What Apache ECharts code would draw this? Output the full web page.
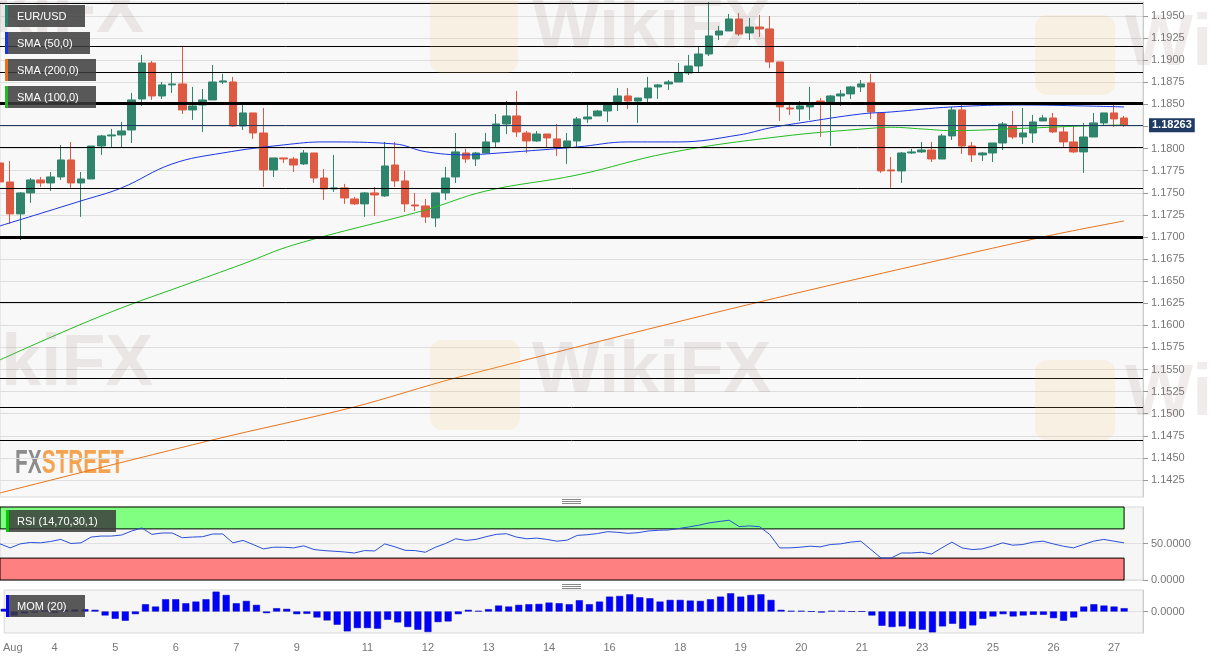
<!DOCTYPE html>
<html>
<head>
<meta charset="utf-8">
<script src="https://cdn.jsdelivr.net/npm/echarts@6/dist/echarts.min.js"></script>
<style>html,body{margin:0;padding:0;background:#fff}#c{width:1214px;height:660px}</style>
</head>
<body>
<div id="c"></div>
<script>
// ---- DATA ----
// 4h candles: [open, close, low, high], index 0..111
const ohlc = [
[1.17837,1.17622,1.17588,1.17871],[1.17622,1.17261,1.17147,1.17860],[1.17261,1.17498,1.16966,1.17509],[1.17498,1.17645,1.17385,1.17667],
[1.17645,1.17611,1.17566,1.17679],[1.17611,1.17679,1.17520,1.17735],[1.17679,1.17871,1.17645,1.18041],[1.17871,1.17611,1.17555,1.18075],
[1.17611,1.17656,1.17227,1.17735],[1.17656,1.18029,1.17656,1.18029],[1.18029,1.18143,1.17928,1.18154],[1.18143,1.18154,1.18018,1.18222],
[1.18154,1.18199,1.18007,1.18301],[1.18210,1.18550,1.18063,1.18629],[1.18561,1.18968,1.18482,1.19059],[1.18968,1.18595,1.18550,1.18991],
[1.18595,1.18720,1.18561,1.18753],[1.18720,1.18731,1.18629,1.18866],[1.18731,1.18437,1.18391,1.19161],[1.18437,1.18482,1.18324,1.18697],
[1.18493,1.18550,1.18188,1.18674],[1.18550,1.18753,1.18550,1.18946],[1.18753,1.18765,1.18731,1.18844],[1.18753,1.18256,1.18244,1.18810],
[1.18256,1.18403,1.18210,1.18493],[1.18403,1.18176,1.18109,1.18403],[1.18176,1.17758,1.17566,1.18459],[1.17758,1.17894,1.17679,1.17894],
[1.17894,1.17882,1.17837,1.17894],[1.17882,1.17814,1.17735,1.17905],[1.17826,1.17950,1.17814,1.17984],[1.17950,1.17667,1.17611,1.17950],
[1.17667,1.17543,1.17419,1.17769],[1.17543,1.17555,1.17509,1.17928],[1.17555,1.17441,1.17374,1.17600],[1.17430,1.17374,1.17362,1.17453],
[1.17374,1.17498,1.17227,1.17509],[1.17498,1.17475,1.17238,1.17566],[1.17464,1.17803,1.17453,1.18075],[1.17814,1.17634,1.17566,1.18075],
[1.17634,1.17374,1.17283,1.17747],[1.17362,1.17351,1.17294,1.17498],[1.17351,1.17227,1.17158,1.17430],[1.17215,1.17498,1.17113,1.17498],
[1.17498,1.17667,1.17419,1.17792],[1.17679,1.17962,1.17611,1.18176],[1.17950,1.17882,1.17837,1.17996],[1.17882,1.17950,1.17803,1.17962],
[1.17950,1.18075,1.17950,1.18176],[1.18075,1.18278,1.18018,1.18391],[1.18278,1.18369,1.18165,1.18538],[1.18369,1.18188,1.18131,1.18652],
[1.18176,1.18086,1.17950,1.18199],[1.18086,1.18165,1.18075,1.18199],[1.18165,1.18120,1.18018,1.18165],[1.18109,1.18018,1.17916,1.18278],
[1.18018,1.18086,1.17826,1.18176],[1.18086,1.18335,1.18018,1.18357],[1.18335,1.18357,1.18290,1.18493],[1.18369,1.18425,1.18369,1.18437],
[1.18425,1.18493,1.18301,1.18527],[1.18527,1.18595,1.18425,1.18685],[1.18595,1.18538,1.18448,1.18685],[1.18538,1.18572,1.18290,1.18572],
[1.18572,1.18685,1.18493,1.18810],[1.18697,1.18720,1.18561,1.18731],[1.18731,1.18753,1.18663,1.18776],[1.18753,1.18855,1.18753,1.18968],
[1.18855,1.18934,1.18832,1.19059],[1.18934,1.19070,1.18866,1.19149],[1.19070,1.19274,1.19047,1.19658],[1.19285,1.19330,1.19228,1.19387],
[1.19330,1.19466,1.19330,1.19523],[1.19466,1.19296,1.19274,1.19534],[1.19308,1.19375,1.19228,1.19477],[1.19375,1.19353,1.19262,1.19511],
[1.19353,1.18980,1.18912,1.19500],[1.18980,1.18471,1.18312,1.18980],[1.18459,1.18448,1.18380,1.18527],[1.18448,1.18482,1.18312,1.18538],
[1.18471,1.18493,1.18324,1.18697],[1.18538,1.18527,1.18131,1.18572],[1.18527,1.18595,1.18029,1.18606],[1.18595,1.18618,1.18482,1.18663],
[1.18618,1.18697,1.18561,1.18708],[1.18697,1.18731,1.18640,1.18776],[1.18742,1.18414,1.18335,1.18844],[1.18403,1.17747,1.17724,1.18403],
[1.17758,1.17747,1.17555,1.17905],[1.17747,1.17950,1.17611,1.17962],[1.17950,1.17962,1.17939,1.17996],[1.17962,1.17984,1.17950,1.18075],
[1.17984,1.17882,1.17848,1.18075],[1.17882,1.18143,1.17882,1.18165],[1.18143,1.18437,1.18097,1.18471],[1.18437,1.18029,1.17939,1.18493],
[1.18029,1.17928,1.17848,1.18075],[1.17928,1.17950,1.17860,1.17962],[1.17950,1.18063,1.17848,1.18063],[1.18063,1.18278,1.17984,1.18301],
[1.18256,1.18131,1.18109,1.18425],[1.18131,1.18176,1.18052,1.18459],[1.18176,1.18301,1.18063,1.18380],[1.18312,1.18346,1.18312,1.18380],
[1.18346,1.18188,1.18176,1.18403],[1.18188,1.18075,1.18018,1.18244],[1.18075,1.17962,1.17950,1.18256],[1.17962,1.18131,1.17724,1.18290],
[1.18131,1.18290,1.18131,1.18403],[1.18290,1.18403,1.18267,1.18403],[1.18403,1.18335,1.18244,1.18493],[1.18346,1.18263,1.18244,1.18369]
];
// moving averages read at selected candle indices: [index, value]
const sma50 = [[0,1.17125],[8,1.17408],[12,1.17555],[17,1.17826],[22,1.17950],[28,1.18041],[32,1.18075],[39,1.18052],[42,1.17965],[46,1.17928],[48,1.17939],[57,1.18018],[62,1.18075],[67,1.18075],[73,1.18154],[76,1.18233],[79,1.18290],[85,1.18391],[88,1.18414],[94,1.18471],[101,1.18493],[107,1.18482],[111,1.18471]];
const sma100 = [[0,1.15609],[6,1.15914],[12,1.16197],[18,1.16446],[24,1.16695],[29,1.16910],[42,1.17305],[48,1.17520],[57,1.17701],[66,1.17950],[77,1.18135],[86,1.18229],[88,1.18241],[91,1.18222],[94,1.18203],[101,1.18229],[107,1.18256],[111,1.18267]];
const sma200 = [[0,1.14104],[21,1.14704],[35,1.15077],[45,1.15405],[75,1.16265],[103,1.17000],[111,1.17181]];
const rsi = [49.5,44.0,49.5,51.4,50.9,52.8,55.6,50.0,50.9,58.8,60.2,60.2,61.6,67.1,71.3,62.5,64.4,64.4,57.9,58.8,
59.3,63.0,63.0,50.9,54.2,48.6,42.6,44.9,44.9,44.0,46.8,41.7,40.3,39.4,38.4,37.0,40.3,39.8,49.5,45.4,
40.7,40.3,38.0,44.9,50.0,56.5,54.2,55.6,59.3,62.5,63.4,58.8,56.5,57.4,55.6,53.2,54.6,61.1,62.0,63.6,
66.2,65.3,63.9,64.8,67.1,68.1,68.5,70.4,72.7,75.0,78.2,80.1,81.9,73.1,74.1,73.1,62.5,44.0,44.0,44.9,
46.3,45.4,48.6,49.5,51.9,53.2,41.7,30.1,30.1,37.0,37.0,38.0,35.6,44.0,51.9,44.0,41.7,42.6,46.3,50.9,
47.7,48.6,51.9,53.2,49.5,46.3,44.0,48.6,53.2,55.6,53.2,50.9];
// momentum (20), in pips
const mom = [8,-12,-6,-3,3,-4,5,6,7,5,-12,-22,-28,-8,22,15,37,37,25,30,
37,60,50,25,32,20,-5,10,8,-8,-7,-18,-27,-40,-60,-50,-50,-52,-25,-33,
-47,-55,-62,-32,-30,-8,5,2,7,18,15,20,22,23,27,25,22,34,22,30,
45,47,52,43,40,30,35,35,33,32,37,45,55,45,50,52,35,5,2,2,
0,-3,2,2,0,0,-12,-43,-47,-45,-52,-55,-63,-45,-37,-52,-42,-22,-15,-8,
-15,-12,-10,-10,-20,-28,-18,15,22,18,15,10];
const yTicks = [1.1425,1.1450,1.1475,1.1500,1.1525,1.1550,1.1575,1.1600,1.1625,1.1650,1.1675,1.1700,1.1725,1.1750,1.1775,1.1800,1.1825,1.1850,1.1875,1.1900,1.1925,1.1950];
const levels = [1.19647,1.19161,1.18866,1.18516,1.18018,1.17555,1.17000,1.16265,1.15405,1.15077,1.14704];
const thickLevels = [1.18516,1.17000];
const lastPrice = 1.18263;
const xLabelIdx = [0.85,5,11,17,23,29,36,42,48,54,60,67,73,79,85,91,98,104,110];
const xLabels = ['Aug','4','5','6','7','9','11','12','13','14','16','18','19','20','21','23','25','26','27'];
const legendMain = ['EUR/USD','SMA (50,0)','SMA (200,0)','SMA (100,0)'];
const rsiName = 'RSI (14,70,30,1)';
const momName = 'MOM (20)';

// ---- CHART ----
const FONT = '"Liberation Sans", Arial, sans-serif';
const UP = '#2f856c', DOWN = '#de5942';
const XMAX = 112.87;
const chart = echarts.init(document.getElementById('c'), null, {renderer: 'canvas'});

function xAxisDef(i, showLabels) {
  return {
    gridIndex: i, type: 'value', min: 0, max: XMAX,
    splitLine: {show: false}, axisLine: {show: false, onZero: false}, axisTick: {show: false},
    axisLabel: showLabels ? {
      show: true, customValues: xLabelIdx, color: '#777', fontSize: 11, fontFamily: FONT, margin: 9,
      formatter: v => { const k = xLabelIdx.indexOf(v); return k >= 0 ? xLabels[k] : ''; }
    } : {show: false}
  };
}
function yAxisBase(i, min, max, ticks, extra) {
  return Object.assign({
    gridIndex: i, type: 'value', position: 'right', min: min, max: max,
    axisLine: {show: true, onZero: false, lineStyle: {color: '#cccccc'}},
    axisTick: {show: true, customValues: ticks, length: 5, lineStyle: {color: '#999'}},
    axisLabel: {customValues: ticks, formatter: v => v.toFixed(4), color: '#777', fontSize: 11, margin: 8, fontFamily: FONT}
  }, extra);
}

const gfx = [];
// faint WikiFX watermarks
const WM_TEXT = 'rgba(140,110,110,0.13)', WM_LOGO = 'rgba(250,205,120,0.16)';
[[430, -15, 88], [430, 340, 90], [1035, 15, 80], [1035, 360, 80]].forEach(p => {
  gfx.push({type: 'rect', z: 9, shape: {x: p[0], y: p[1], width: p[2], height: p[2], r: 12}, style: {fill: WM_LOGO}});
});
[[532, 28], [532, 372], [-86, 365], [-95, 12], [1125, 45], [1125, 395]].forEach(p => {
  gfx.push({type: 'text', z: 9, silent: true, style: {x: p[0], y: p[1], text: 'WikiFX', fill: WM_TEXT, font: 'bold 72px ' + FONT, verticalAlign: 'middle'}});
});

const legendColors = [UP, '#1a35e0', '#e8731c', '#22bb22'];
const legendW = [80, 85, 91, 91];
legendMain.forEach((t, i) => {
  const y = 5 + i * 27;
  gfx.push({type: 'rect', z: 100, shape: {x: 5, y: y, width: legendW[i], height: 22}, style: {fill: 'rgba(60,60,60,0.85)'}});
  gfx.push({type: 'rect', z: 101, shape: {x: 5, y: y, width: 3, height: 22}, style: {fill: legendColors[i]}});
  gfx.push({type: 'text', z: 102, style: {x: 17, y: y + 11.5, text: t, fill: '#fff', font: '11px ' + FONT, verticalAlign: 'middle'}});
});
gfx.push({type: 'rect', z: 100, shape: {x: 6, y: 510, width: 110, height: 22}, style: {fill: 'rgba(60,60,60,0.85)'}});
gfx.push({type: 'rect', z: 101, shape: {x: 6, y: 510, width: 3, height: 22}, style: {fill: '#00cc00'}});
gfx.push({type: 'text', z: 102, style: {x: 17, y: 521.5, text: rsiName, fill: '#fff', font: '11px ' + FONT, verticalAlign: 'middle'}});
gfx.push({type: 'rect', z: 100, shape: {x: 6, y: 595, width: 79, height: 22}, style: {fill: 'rgba(60,60,60,0.85)'}});
gfx.push({type: 'rect', z: 101, shape: {x: 6, y: 595, width: 3, height: 22}, style: {fill: '#0000ff'}});
gfx.push({type: 'text', z: 102, style: {x: 17, y: 606.5, text: momName, fill: '#fff', font: '11px ' + FONT, verticalAlign: 'middle'}});
// panel grips
[499.5, 501.5, 503.5, 584.5, 586.5, 588.5].forEach(y => {
  gfx.push({type: 'line', z: 50, shape: {x1: 562, y1: y, x2: 581, y2: y}, style: {stroke: '#888', lineWidth: 1}});
});
// FXSTREET logo
gfx.push({type: 'group', x: 15, y: 464, scaleX: 0.63, z: 20, children: [
  {type: 'text', style: {x: 0, y: 0, text: 'FX', fill: '#8c8c8c', font: 'bold 33px ' + FONT, verticalAlign: 'middle'}},
  {type: 'text', style: {x: 42.5, y: 0, text: 'STREET', fill: '#f2a452', font: 'bold 33px ' + FONT, verticalAlign: 'middle'}}
]});

const option = {
  animation: false,
  backgroundColor: '#ffffff',
  textStyle: {fontFamily: FONT},
  grid: [
    {left: 0, top: 2, width: 1143, height: 495, show: true, backgroundColor: '#f8f8f8', borderColor: '#d8d8d8', borderWidth: 1},
    {left: 0, top: 507, width: 1143, height: 73, show: true, backgroundColor: '#f6f6f6', borderColor: '#d8d8d8', borderWidth: 1},
    {left: 0, top: 590, width: 1143, height: 43, show: true, backgroundColor: '#f6f6f6', borderColor: '#d8d8d8', borderWidth: 1}
  ],
  xAxis: [xAxisDef(0, false), xAxisDef(1, false), xAxisDef(2, true)],
  yAxis: [
    yAxisBase(0, 1.14058, 1.19658, yTicks, {splitLine: {show: false}}),
    yAxisBase(1, 0, 100, [0, 50], {interval: 50, splitLine: {show: true, lineStyle: {color: '#e0e0e0'}}}),
    yAxisBase(2, -0.0065, 0.0065, [0], {interval: 0.0065, splitLine: {show: true, lineStyle: {color: '#e0e0e0'}}})
  ],
  graphic: gfx,
  series: [
    {type: 'line', xAxisIndex: 0, yAxisIndex: 0, data: [[0, null]], silent: true, symbol: 'none',
     markLine: {z: 1, precision: 5, silent: true, symbol: ['none', 'none'], label: {show: false},
       lineStyle: {color: '#dedede', width: 1, type: 'solid'}, data: yTicks.map(v => ({yAxis: v}))}},
    {type: 'candlestick', xAxisIndex: 0, yAxisIndex: 0, barWidth: 8, z: 3,
     data: ohlc.map((d, i) => [i, d[0], d[1], d[2], d[3]]),
     itemStyle: {color: UP, color0: DOWN, borderColor: UP, borderColor0: DOWN, borderWidth: 1},
     markLine: {z: 6, precision: 5, silent: true, symbol: ['none', 'none'], label: {show: false},
       data: levels.map(v => ({yAxis: v, lineStyle: {color: '#000', width: thickLevels.includes(v) ? 3 : 1, type: 'solid'}})).concat([
         {yAxis: lastPrice, lineStyle: {color: '#1f3b63', width: 1, type: 'solid'},
          label: {show: true, position: 'end', distance: 6, formatter: lastPrice.toFixed(5), color: '#fff',
                  backgroundColor: '#1f3b63', padding: [2, 3, 1, 3], fontWeight: 'bold', fontSize: 11, fontFamily: FONT}}
       ])}},
    {type: 'line', xAxisIndex: 0, yAxisIndex: 0, data: sma200, smooth: 0.3, symbol: 'none', z: 4, lineStyle: {color: '#e8731c', width: 1}},
    {type: 'line', xAxisIndex: 0, yAxisIndex: 0, data: sma100, smooth: 0.4, symbol: 'none', z: 4, lineStyle: {color: '#22bb22', width: 1}},
    {type: 'line', xAxisIndex: 0, yAxisIndex: 0, data: sma50, smooth: 0.4, symbol: 'none', z: 4, lineStyle: {color: '#1a35e0', width: 1}},
    {type: 'line', xAxisIndex: 1, yAxisIndex: 1, data: rsi.map((v, i) => [i, v]), symbol: 'none', z: 4,
     lineStyle: {color: '#2a4fd6', width: 1},
     markArea: {silent: true, data: [
       [{xAxis: 0, yAxis: 70, itemStyle: {color: '#80ff80', borderColor: '#000', borderWidth: 1}}, {xAxis: 111, yAxis: 100}],
       [{xAxis: 0, yAxis: 0, itemStyle: {color: '#ff8080', borderColor: '#000', borderWidth: 1}}, {xAxis: 111, yAxis: 30}]
     ]}},
    {type: 'bar', xAxisIndex: 2, yAxisIndex: 2, barWidth: 7, data: mom.map((v, i) => [i, v / 10000]),
     itemStyle: {color: '#0000ff', borderColor: '#0000b8', borderWidth: 0.5}}
  ]
};
chart.setOption(option);
</script>
</body>
</html>
